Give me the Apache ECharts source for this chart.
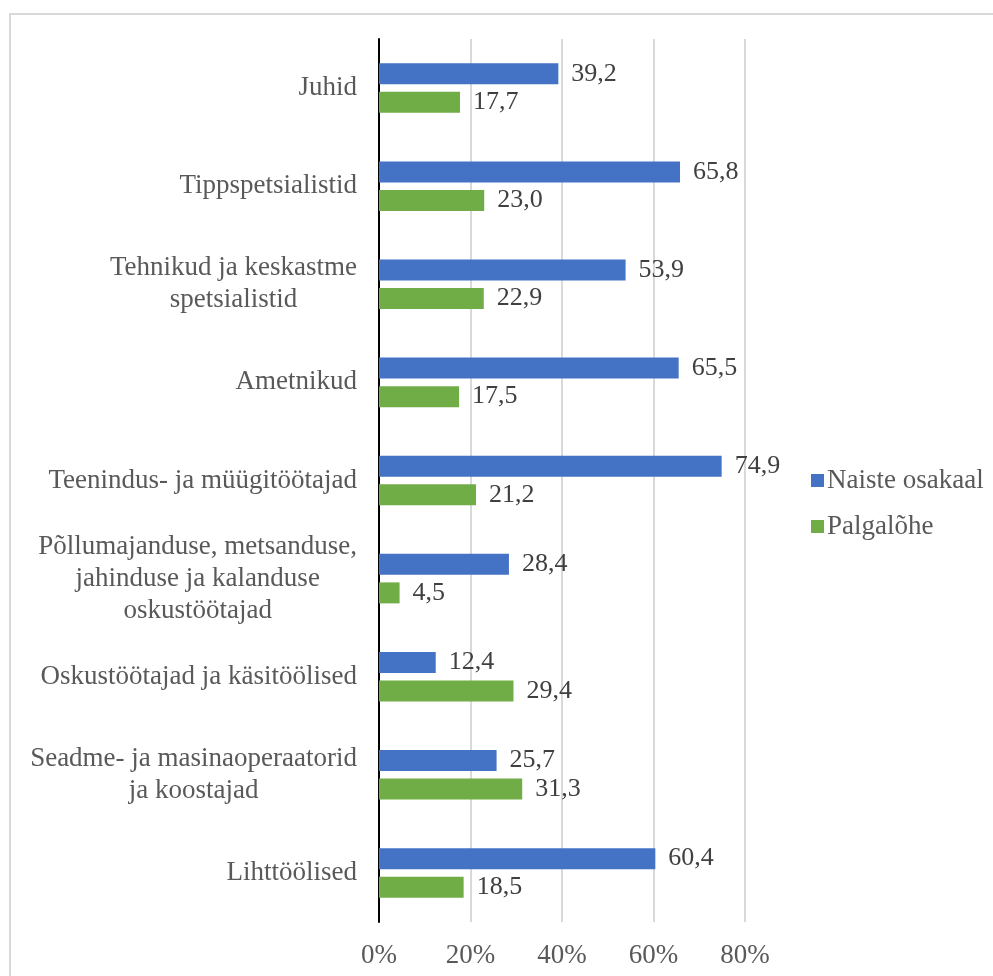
<!DOCTYPE html>
<html>
<head>
<meta charset="utf-8">
<script src="https://cdn.jsdelivr.net/npm/echarts@6/dist/echarts.min.js"></script>
<style>
  html, body { margin: 0; padding: 0; background: #fff; }
  #chart { width: 993px; height: 976px; }
</style>
</head>
<body>
<div id="chart"></div>
<script>
// Occupational groups (top to bottom)
const categories = [
  'Juhid',
  'Tippspetsialistid',
  'Tehnikud ja keskastme\nspetsialistid',
  'Ametnikud',
  'Teenindus- ja müügitöötajad',
  'Põllumajanduse, metsanduse,\njahinduse ja kalanduse\noskustöötajad',
  'Oskustöötajad ja käsitöölised',
  'Seadme- ja masinaoperaatorid\nja koostajad',
  'Lihttöölised'
];

// Share of women, %
const naisteOsakaal = [39.2, 65.8, 53.9, 65.5, 74.9, 28.4, 12.4, 25.7, 60.4];
// Gender pay gap, %
const palgalohe = [17.7, 23.0, 22.9, 17.5, 21.2, 4.5, 29.4, 31.3, 18.5];

const seriesNames = ['Naiste osakaal', 'Palgalõhe'];
const axisTicks = [0, 20, 40, 60, 80];

const FONT = '"Liberation Serif", "Times New Roman", serif';
const fmtValue = v => v.toFixed(1).replace('.', ',');

const chart = echarts.init(document.getElementById('chart'));

const valueLabel = {
  show: true,
  position: 'right',
  distance: 13,
  fontFamily: FONT,
  fontSize: 26,
  color: '#404040',
  formatter: p => fmtValue(p.value)
};

chart.setOption({
  animation: false,
  backgroundColor: '#ffffff',
  graphic: [{
    type: 'rect',
    shape: { x: 10, y: 14, width: 1000, height: 1000 },
    style: { fill: 'none', stroke: '#d9d9d9', lineWidth: 2 },
    silent: true
  }],
  grid: { left: 379, right: 248, top: 39, bottom: 54, containLabel: false },
  legend: {
    orient: 'vertical',
    left: 806,
    top: 462,
    itemWidth: 13,
    itemHeight: 13,
    itemGap: 19,
    icon: 'rect',
    textStyle: { fontFamily: FONT, fontSize: 27, color: '#595959', padding: [0, 0, 0, -2] },
    data: seriesNames
  },
  xAxis: {
    type: 'value',
    min: axisTicks[0],
    max: axisTicks[axisTicks.length - 1],
    interval: 20,
    axisLine: { show: false },
    axisTick: { show: false },
    splitLine: { show: true, lineStyle: { color: '#d9d9d9', width: 2 } },
    axisLabel: {
      margin: 20,
      fontFamily: FONT,
      fontSize: 27,
      color: '#595959',
      formatter: v => v + '%'
    }
  },
  yAxis: {
    type: 'category',
    inverse: true,
    data: categories,
    axisLine: { show: true, lineStyle: { color: '#000000', width: 2 } },
    axisTick: { show: false },
    axisLabel: {
      margin: 22,
      fontFamily: FONT,
      fontSize: 27,
      color: '#595959',
      lineHeight: 32,
      formatter: v => v.split('\n').map(s => '{c|' + s + '}').join('\n'),
      rich: {
        c: { align: 'center', fontFamily: FONT, fontSize: 27, color: '#595959', lineHeight: 32 }
      }
    }
  },
  series: [
    {
      name: seriesNames[0],
      type: 'bar',
      data: naisteOsakaal,
      barWidth: 21,
      barGap: '36%',
      itemStyle: { color: '#4472C4' },
      label: valueLabel
    },
    {
      name: seriesNames[1],
      type: 'bar',
      data: palgalohe,
      barWidth: 21,
      barGap: '36%',
      itemStyle: { color: '#70AD47' },
      label: valueLabel
    }
  ]
});
</script>
</body>
</html>
